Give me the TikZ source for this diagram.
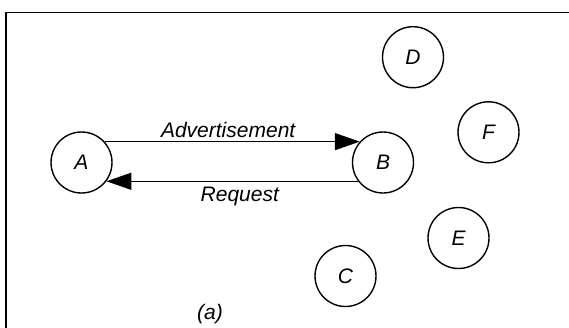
\documentclass[tikz,border=0pt]{standalone}
\usepackage{fontspec}
\setmainfont{Liberation Sans}
\usetikzlibrary{arrows.meta}
\begin{document}
\begin{tikzpicture}[x=1pt,y=-1pt,
  peer/.style={circle,draw,line width=1.4pt,minimum size=61pt,inner sep=0pt,
    font=\fontsize{21}{25}\selectfont\itshape},
  msg/.style={line width=1.4pt,-{Triangle[length=25pt,width=17pt]}},
  lbl/.style={font=\fontsize{21}{25}\selectfont\itshape,inner sep=0pt}]
\useasboundingbox (0,0) rectangle (569,327);
\draw[line width=1.8pt] (6,332) -- (6,12.5) -- (574,12.5);
\node[peer] (A) at (81.5,162.5) {A};
\node[peer] (B) at (383,162.5) {B};
\node[peer] (C) at (345.5,276) {C};
\node[peer] (D) at (413,57.2) {D};
\node[peer] (E) at (458.5,238) {E};
\node[peer] (F) at (488.5,132.3) {F};
\draw[msg] (A.42) -- node[lbl,pos=0.484,above=3pt] (adv) {Advertisement} (B.138);
\draw[msg] (B.-143) -- node[lbl,pos=0.47,below=5.5pt] (req) {Request} (A.-37);
\node[lbl] (cap) at (210,314) {(a)};
\end{tikzpicture}
\end{document}
